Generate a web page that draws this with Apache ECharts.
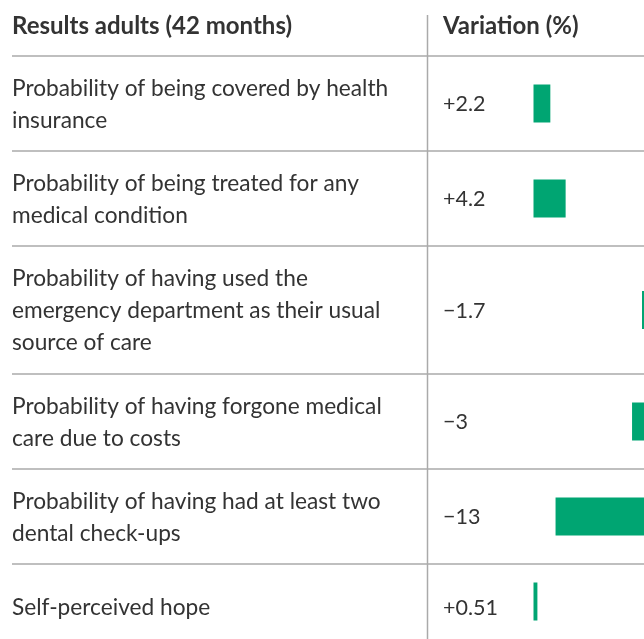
<!DOCTYPE html>
<html>
<head>
<meta charset="utf-8">
<script src="https://cdn.jsdelivr.net/npm/echarts@6/dist/echarts.min.js"></script>
<style>
html, body { margin: 0; padding: 0; background: #fff; }
#chart { width: 644px; height: 639px; }
</style>
</head>
<body>
<div id="chart"></div>
<script>
// table data
const headerLeft = 'Results adults (42 months)';
const headerRight = 'Variation (%)';
const rowLabels = [
  'Probability of being covered by health\ninsurance',
  'Probability of being treated for any\nmedical condition',
  'Probability of having used the\nemergency department as their usual\nsource of care',
  'Probability of having forgone medical\ncare due to costs',
  'Probability of having had at least two\ndental check-ups',
  'Self-perceived hope'
];
const variation = [2.2, 4.2, -1.7, -3, -13, 0.51];
const variationText = ['+2.2', '+4.2', '\u22121.7', '\u22123', '\u221213', '+0.51'];

// layout
const rowHeights = [95, 95, 128, 95, 95, 86];
const firstRowTop = 56;
const barLeft = 533.5;
const chartWidth = 644;
const negZeroX = 655;      // negative bars hang from here (just past the right edge)
const pxPerUnit = 7.65;
const posMax = (chartWidth - barLeft) / pxPerUnit;
const negMin = -(negZeroX - barLeft) / pxPerUnit;
const negMax = (chartWidth - negZeroX) / pxPerUnit;
const textColor = '#333';
const lineColor = '#aaaaaa';
const font = 'Lato, "Source Sans Pro", sans-serif';

let myChart = echarts.init(document.getElementById('chart'));

let grids = [], xAxes = [], yAxes = [], series = [], graphics = [];
let rowTop = firstRowTop;

rowLabels.forEach((label, i) => {
  let h = rowHeights[i];
  let mid = rowTop + h / 2;
  grids.push({ left: barLeft, right: 0, top: rowTop, height: h });
  // positive values grow right from the left edge, negatives grow left from negZeroX
  xAxes.push({ gridIndex: i, type: 'value', min: 0, max: posMax, show: false });
  xAxes.push({ gridIndex: i, type: 'value', min: negMin, max: negMax, show: false });
  yAxes.push({ gridIndex: i, type: 'category', data: [label], show: false });
  let v = variation[i];
  series.push({
    type: 'bar',
    xAxisIndex: v >= 0 ? i * 2 : i * 2 + 1,
    yAxisIndex: i,
    barWidth: 38,
    itemStyle: { color: '#00a572' },
    data: [v],
    silent: true
  });

  graphics.push({
    type: 'text', x: 12, y: mid + 1, style: {
      text: label, fill: textColor, font: '22.7px ' + font,
      lineHeight: 32, verticalAlign: 'middle'
    }
  });
  graphics.push({
    type: 'text', x: 443, y: mid + 1, style: {
      text: variationText[i], fill: textColor, font: '21.5px ' + font,
      verticalAlign: 'middle'
    }
  });
  graphics.push({
    type: 'line', shape: { x1: 12, y1: rowTop, x2: 644, y2: rowTop },
    style: { stroke: lineColor, lineWidth: 1.5 }
  });
  rowTop += h;
});

graphics.push({
  type: 'text', x: 12, y: 26, style: {
    text: headerLeft, fill: textColor, font: 'bold 24px ' + font, verticalAlign: 'middle'
  }
});
graphics.push({
  type: 'text', x: 443, y: 26, style: {
    text: headerRight, fill: textColor, font: 'bold 24px ' + font, verticalAlign: 'middle'
  }
});
graphics.push({
  type: 'line', shape: { x1: 427.5, y1: 15, x2: 427.5, y2: 639 },
  style: { stroke: lineColor, lineWidth: 1.5 }
});

var option = {
  animation: false,
  grid: grids,
  xAxis: xAxes,
  yAxis: yAxes,
  series: series,
  graphic: graphics
};

myChart.setOption(option);
window.onresize = myChart.resize;
</script>
</body>
</html>
